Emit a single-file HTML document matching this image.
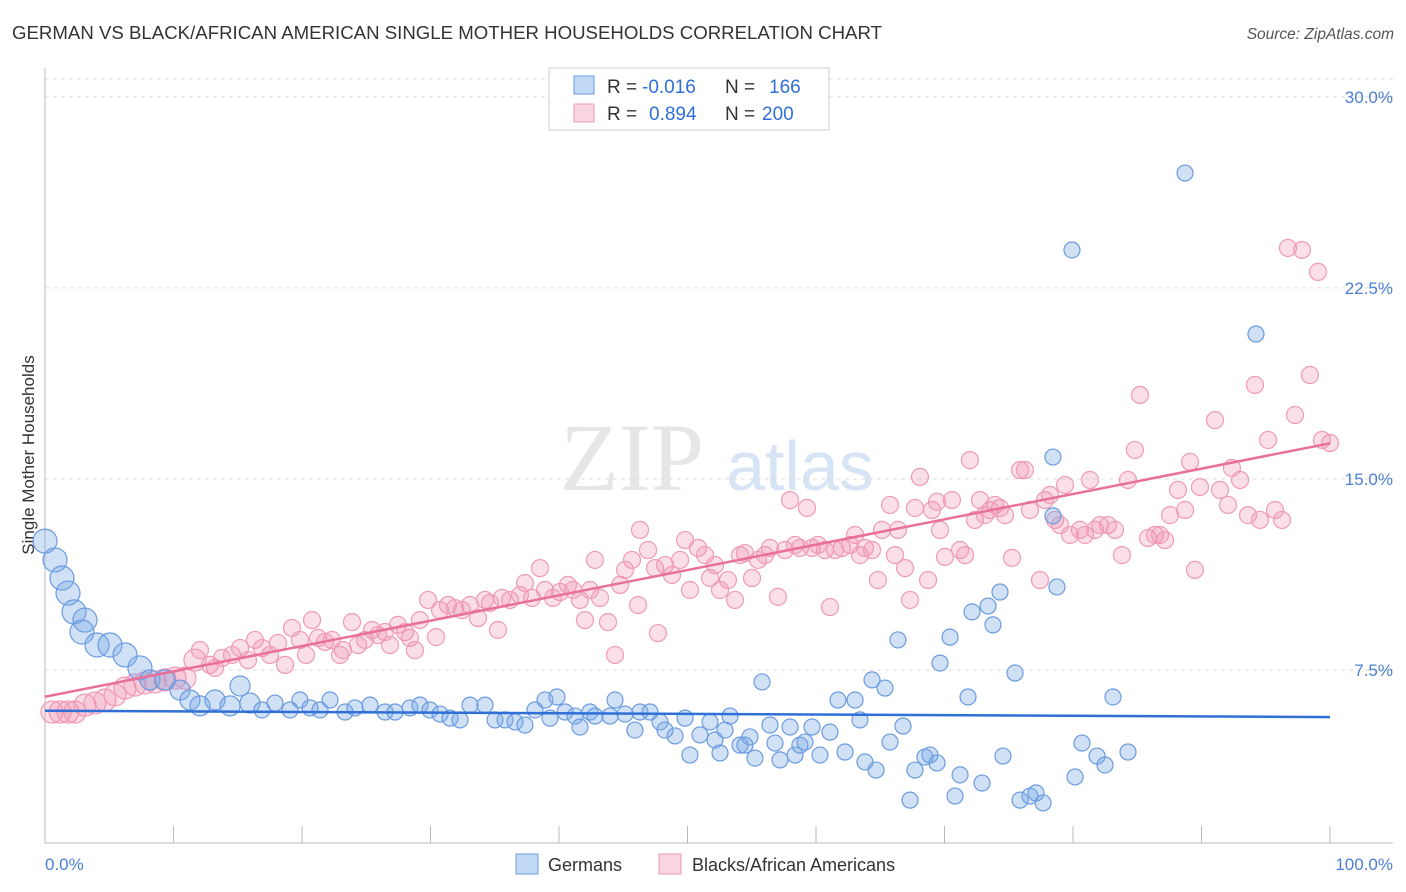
<!DOCTYPE html>
<html><head><meta charset="utf-8"><style>
body{margin:0;background:#fff;font-family:"Liberation Sans",sans-serif;}
svg{display:block}
</style></head><body>
<svg id="c" width="1406" height="892">
<text x="12" y="39" font-size="18" textLength="870" lengthAdjust="spacingAndGlyphs" fill="#333">GERMAN VS BLACK/AFRICAN AMERICAN SINGLE MOTHER HOUSEHOLDS CORRELATION CHART</text>
<text x="1394" y="39" font-size="15.5" fill="#555" font-style="italic" text-anchor="end">Source: ZipAtlas.com</text>
<text x="632" y="490" font-size="96" fill="#e6e6e6" font-family="Liberation Serif" text-anchor="middle">ZIP</text>
<text x="800" y="490" font-size="70" fill="#d6e4f5" text-anchor="middle">atlas</text>
<text transform="translate(34,455) rotate(-90)" font-size="17" fill="#333" text-anchor="middle">Single Mother Households</text>
<g id="grid"></g><g id="pts"></g><g id="lines"></g>
<g>
<rect x="549" y="68" width="280" height="62" fill="#fff" stroke="#ccc"/>
<rect x="574" y="76" width="20" height="18" fill="rgba(120,170,230,0.45)" stroke="#6b9be0"/>
<rect x="574" y="104" width="20" height="18" fill="rgba(240,150,180,0.4)" stroke="#f09ab6"/>
<text x="607" y="93" font-size="19" fill="#333">R = <tspan fill="#2f6fd6" x="642">-0.016</tspan><tspan x="725" fill="#333">N = </tspan><tspan fill="#2f6fd6" x="769">166</tspan></text>
<text x="607" y="120" font-size="19" fill="#333">R = <tspan fill="#2f6fd6" x="649">0.894</tspan><tspan x="725" fill="#333">N = </tspan><tspan fill="#2f6fd6" x="762">200</tspan></text>
</g>
<g>
<rect x="516" y="854" width="22" height="20" fill="rgba(120,170,230,0.45)" stroke="#6b9be0"/>
<text x="548" y="871" font-size="18" fill="#333">Germans</text>
<rect x="659" y="854" width="22" height="20" fill="rgba(240,150,180,0.4)" stroke="#f09ab6"/>
<text x="692" y="871" font-size="18" fill="#333">Blacks/African Americans</text>
</g>
</svg>
<script>
const yTicks=[7.5,15,22.5,30];
const yTickLabels=["7.5%","15.0%","22.5%","30.0%"];
const xTicks=[0,10,20,30,40,50,60,70,80,90,100];
const blueLine=[5.9,5.65];
const pinkLine=[6.45,16.4];
const bluePx=[[45,541],[55,560],[62,578],[68,593],[74,612],[85,620],[82,632],[97,645],[110,645],[125,655],[140,668],[150,680],[165,680],[180,690],[190,700],[200,706],[215,700],[230,706],[240,686],[250,703],[262,710],[275,703],[290,710],[300,700],[310,708],[320,710],[330,700],[345,712],[355,708],[370,705],[385,712],[395,712],[410,708],[420,705],[430,710],[440,714],[450,718],[460,720],[470,705],[485,705],[495,720],[505,720],[515,722],[525,725],[535,710],[545,700],[550,718],[557,697],[565,712],[575,716],[580,727],[590,712],[595,716],[610,716],[615,700],[625,714],[635,730],[640,712],[650,712],[660,722],[665,730],[675,736],[685,718],[690,755],[700,735],[710,722],[715,740],[720,753],[725,730],[730,716],[740,745],[745,745],[750,737],[755,758],[762,682],[770,725],[775,743],[780,760],[790,727],[795,755],[800,745],[805,742],[812,727],[820,755],[830,732],[838,700],[845,752],[855,700],[860,720],[865,762],[872,680],[876,770],[885,688],[890,742],[898,640],[903,726],[910,800],[915,770],[925,757],[930,755],[937,763],[940,663],[950,637],[955,796],[960,775],[968,697],[972,612],[982,783],[988,606],[993,625],[1000,592],[1003,756],[1015,673],[1020,800],[1030,796],[1036,793],[1043,803],[1053,516],[1053,457],[1057,587],[1072,250],[1075,777],[1082,743],[1097,756],[1105,765],[1113,697],[1128,752],[1185,173],[1256,334]];
const pinkPx=[[52,712],[60,712],[68,712],[75,712],[85,705],[95,703],[105,700],[115,695],[125,688],[135,685],[145,683],[155,682],[165,680],[175,678],[185,678],[195,660],[200,650],[210,665],[215,668],[222,658],[232,655],[240,648],[248,660],[255,640],[262,648],[270,655],[278,643],[285,665],[292,628],[300,640],[306,655],[312,620],[318,638],[325,642],[332,640],[340,655],[343,650],[352,622],[358,645],[365,640],[372,630],[378,635],[385,632],[390,645],[398,625],[405,632],[410,638],[415,650],[420,620],[428,600],[436,637],[440,610],[448,605],[455,608],[462,610],[470,605],[478,618],[485,600],[490,603],[498,630],[502,598],[510,600],[520,595],[525,583],[532,598],[540,568],[545,590],[553,598],[560,592],[568,585],[573,590],[580,600],[585,620],[590,590],[595,560],[600,598],[608,622],[615,655],[620,585],[625,570],[632,560],[638,605],[640,530],[648,550],[655,568],[658,633],[665,565],[672,575],[680,560],[685,540],[690,590],[698,548],[705,555],[710,578],[715,565],[720,590],[728,580],[735,600],[740,555],[745,553],[752,578],[758,560],[765,555],[770,548],[778,597],[785,550],[790,500],[795,545],[800,548],[807,508],[812,548],[818,545],[825,550],[830,607],[835,550],[842,548],[850,545],[855,535],[860,555],[865,548],[872,550],[878,580],[882,530],[890,505],[895,555],[898,530],[905,568],[910,600],[915,508],[920,477],[928,580],[932,510],[937,502],[940,530],[945,557],[952,500],[960,550],[965,555],[970,460],[975,520],[980,500],[985,515],[990,510],[995,505],[1000,508],[1005,515],[1012,558],[1020,470],[1025,470],[1030,510],[1040,580],[1045,500],[1050,495],[1055,520],[1060,525],[1065,485],[1070,535],[1080,530],[1085,535],[1090,480],[1095,530],[1100,525],[1108,525],[1115,530],[1122,555],[1128,480],[1135,450],[1140,395],[1148,538],[1155,535],[1160,535],[1165,540],[1170,515],[1178,490],[1185,510],[1190,462],[1195,570],[1200,487],[1215,420],[1220,490],[1228,505],[1232,468],[1240,480],[1248,515],[1255,385],[1260,520],[1268,440],[1275,510],[1282,520],[1288,248],[1295,415],[1302,250],[1310,375],[1318,272],[1322,440],[1330,443]];
// data values (x %, y %)
const blueX=bluePx.map(p=>+((p[0]-45)/12.85).toFixed(2));
const blueY=bluePx.map(p=>+((861-p[1])/25.47).toFixed(2));
const pinkX=pinkPx.map(p=>+((p[0]-45)/12.85).toFixed(2));
const pinkY=pinkPx.map(p=>+((861-p[1])/25.47).toFixed(2));

const NS="http://www.w3.org/2000/svg";
const sx=v=>45+v*12.85, sy=v=>861-v*25.47;
function mk(t,a,parent){const e=document.createElementNS(NS,t);for(const k in a)e.setAttribute(k,a[k]);parent.appendChild(e);return e;}
const grid=document.getElementById('grid');
let l=mk('line',{x1:45,x2:1393,y1:79,y2:79,stroke:'#ddd','stroke-dasharray':'4,4'},grid);


yTicks.forEach((v,i)=>{
 const g=mk('line',{x1:45,x2:1393,y1:sy(v),y2:sy(v),stroke:'#ddd','stroke-dasharray':'4,4'},grid);
 
 
 const t=mk('text',{x:1393,y:sy(v)+6,'font-size':17,fill:'#4a7fd4','text-anchor':'end'},grid);
 t.textContent=yTickLabels[i];
 
 
});
const ax=mk('line',{x1:45,x2:1393,y1:843,y2:843,stroke:'#bbb'},grid);


const ay=mk('line',{x1:45,x2:45,y1:68,y2:843,stroke:'#bbb'},grid);


xTicks.forEach(v=>{const t=mk('line',{x1:sx(v),x2:sx(v),y1:826,y2:843,stroke:'#bbb'},grid);
 
 });
let t0=mk('text',{x:45,y:870,'font-size':17,fill:'#4a7fd4'},grid);t0.textContent='0.0%';


let t1=mk('text',{x:1393,y:870,'font-size':17,fill:'#4a7fd4','text-anchor':'end'},grid);t1.textContent='100.0%';


const pts=document.getElementById('pts');
pinkX.forEach((x,i)=>{const r=x<12?11:8.5;
 const c=mk('circle',{cx:sx(x),cy:sy(pinkY[i]),r:r,fill:'rgba(240,150,180,0.3)',stroke:'#f09ab6','stroke-width':1.2},pts);
 
 });
blueX.forEach((x,i)=>{const r=x<8?12:(x<16?10:8);
 const c=mk('circle',{cx:sx(x),cy:sy(blueY[i]),r:r,fill:'rgba(120,170,230,0.35)',stroke:'#6b9be0','stroke-width':1.2},pts);
 
 });
const lines=document.getElementById('lines');
const bl=mk('line',{x1:sx(0),x2:sx(100),y1:sy(blueLine[0]),y2:sy(blueLine[1]),stroke:'#2f6fd6','stroke-width':2.5},lines);


const pl=mk('line',{x1:sx(0),x2:sx(100),y1:sy(pinkLine[0]),y2:sy(pinkLine[1]),stroke:'#e8709a','stroke-width':2.5},lines);


</script>
</body></html>
